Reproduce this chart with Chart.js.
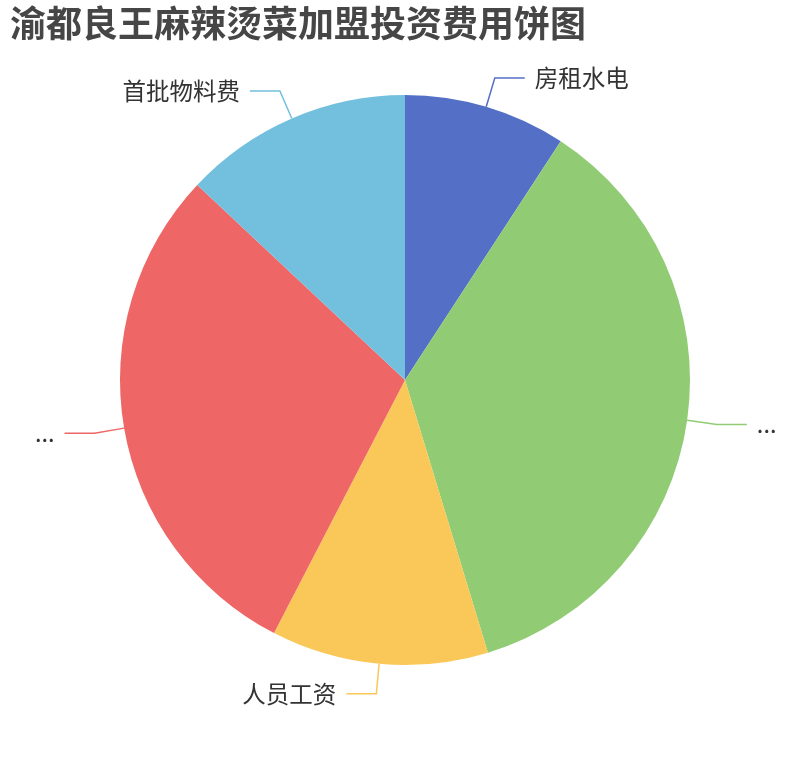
<!DOCTYPE html>
<html>
<head>
<meta charset="utf-8">
<script src="https://cdn.jsdelivr.net/npm/chart.js@4"></script>
<style>
  html, body { margin: 0; padding: 0; background: #fff; }
  #wrap { width: 810px; height: 760px; position: relative; }
</style>
</head>
<body>
<div id="wrap"><canvas id="pie"></canvas></div>
<script>
const title = "渝都良王麻辣烫菜加盟投资费用饼图";
const labels = ["房租水电", "...", "人员工资", "...", "首批物料费"];
const values = [9.2, 36.1, 12.3, 29.4, 13.0];
const colors = ["#5470c6", "#91cc75", "#fac858", "#ee6666", "#73c0de"];

const fontFamily = '"Noto Sans CJK SC", "Noto Sans", sans-serif';

// leader lines + labels, echarts style
const outsideLabels = {
    id: "outsideLabels",
    afterDatasetsDraw(chart) {
        const ctx = chart.ctx;
        const arcs = chart.getDatasetMeta(0).data;
        ctx.save();
        arcs.forEach((arc, i) => {
            const mid = (arc.startAngle + arc.endAngle) / 2;
            const r = arc.outerRadius;
            const x0 = arc.x + Math.cos(mid) * r;
            const y0 = arc.y + Math.sin(mid) * r;
            const x1 = arc.x + Math.cos(mid) * (r + 30);
            const y1 = arc.y + Math.sin(mid) * (r + 30);
            const right = Math.cos(mid) >= 0;
            const x2 = x1 + (right ? 30 : -30);
            ctx.strokeStyle = colors[i];
            ctx.lineWidth = 1.5;
            ctx.beginPath();
            ctx.moveTo(x0, y0);
            ctx.lineTo(x1, y1);
            ctx.lineTo(x2, y1);
            ctx.stroke();
            ctx.fillStyle = "#333";
            ctx.font = "23.5px " + fontFamily;
            ctx.textBaseline = "middle";
            ctx.textAlign = right ? "left" : "right";
            ctx.fillText(labels[i], x2 + (right ? 10 : -10), y1);
        });
        ctx.fillStyle = "#464646";
        ctx.font = "bold 36px " + fontFamily;
        ctx.textAlign = "left";
        ctx.textBaseline = "top";
        ctx.fillText(title, 10, 5);
        ctx.restore();
    }
};

new Chart(document.getElementById("pie"), {
    type: "pie",
    data: {
        labels: labels,
        datasets: [
            {
                data: values,
                backgroundColor: colors,
                borderWidth: 0,
            },
        ],
    },
    options: {
        responsive: true,
        maintainAspectRatio: false,
        animation: false,
        layout: {
            padding: { left: 120, right: 120, top: 95, bottom: 95 },
        },
        plugins: {
            legend: { display: false },
            tooltip: { enabled: false },
            title: { display: false },
        },
    },
    plugins: [outsideLabels],
});
</script>
</body>
</html>
